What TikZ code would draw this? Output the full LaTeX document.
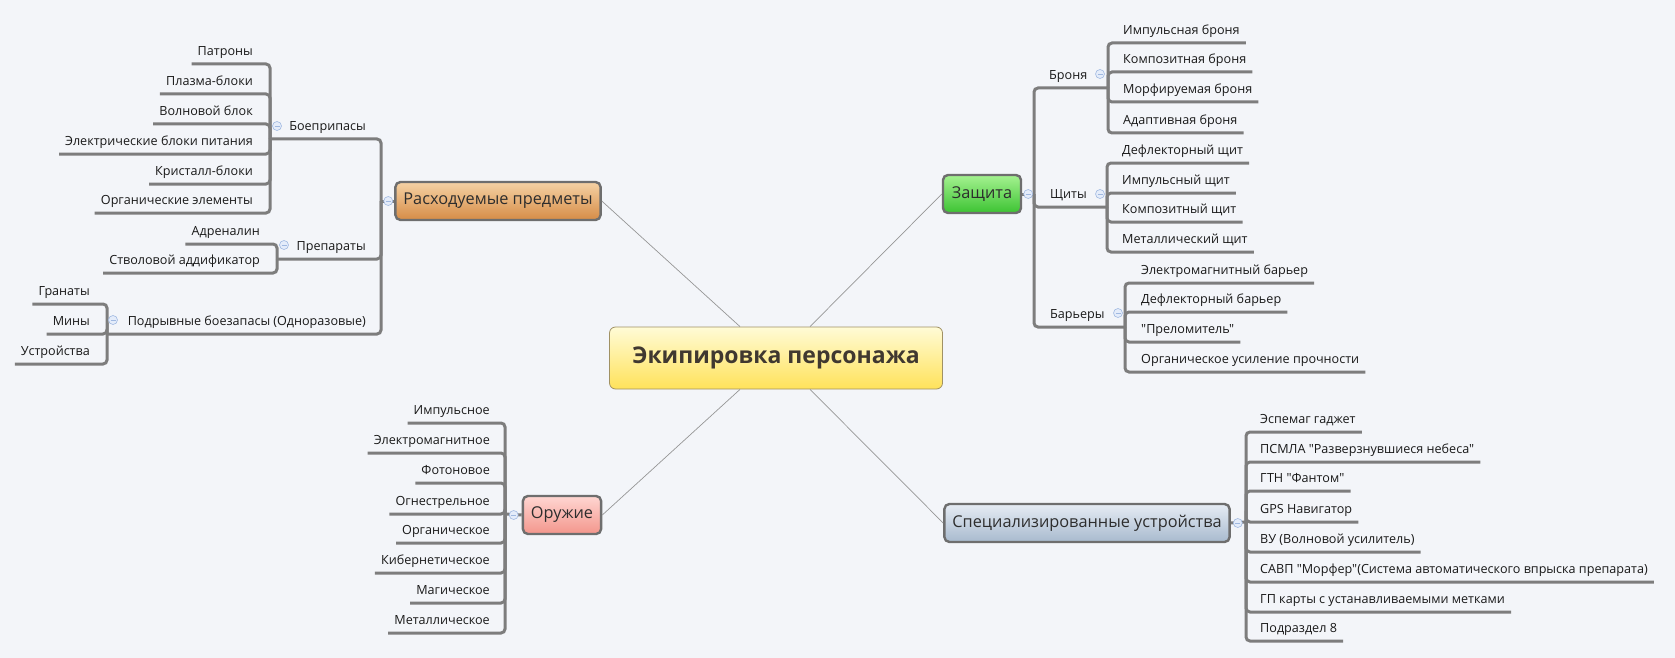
\documentclass[tikz,border=0pt]{standalone}
\usepackage{fontspec}
\setmainfont{Open Sans}[Ligatures=TeXOff]

\definecolor{bg}{RGB}{243,245,249}
\definecolor{treeline}{RGB}{125,125,125}
\definecolor{spokeline}{RGB}{150,150,150}
\definecolor{leaftext}{RGB}{25,25,25}
\definecolor{coretop}{RGB}{255,251,214}
\definecolor{corebot}{RGB}{255,226,90}
\definecolor{coreedge}{RGB}{160,145,100}
\definecolor{coretext}{RGB}{64,56,48}
\definecolor{topicedge}{RGB}{110,110,110}
\definecolor{topictext}{RGB}{45,45,45}
\definecolor{foldedge}{RGB}{160,185,225}
\definecolor{foldfill}{RGB}{228,236,250}

\begin{document}
\begin{tikzpicture}[
    x=1pt, y=-1pt,
    font=\fontsize{12.6}{15}\selectfont,
    core/.style={draw=coreedge, line width=0.8pt, rounded corners=6pt,
      top color=coretop, bottom color=corebot, minimum width=333pt,
      minimum height=62pt, text=coretext,
      font=\fontsize{23}{27}\selectfont\bfseries},
    topic/.style={draw=topicedge, line width=2.4pt, rounded corners=5pt,
      minimum height=38pt, inner xsep=8pt, text=topictext,
      font=\fontsize{16.3}{20}\selectfont},
    leaf/.style={inner xsep=6pt, inner ysep=5pt, text height=9pt,
      text depth=3pt, text=leaftext},
    fold/.style={circle, draw=foldedge, fill=foldfill, line width=0.6pt,
      minimum size=9pt, inner sep=0pt,
      path picture={\draw[foldedge, line width=0.8pt]
        ([xshift=2pt]path picture bounding box.west) --
        ([xshift=-2pt]path picture bounding box.east);}},
    tree/.style={draw=treeline, line width=3pt, rounded corners=4pt},
    spoke/.style={draw=spokeline, line width=0.7pt}
  ]
    \fill[bg] (0,0) rectangle (1675,658);
    \useasboundingbox (0,0) rectangle (1675,658);

    % centre and main topics
    \node[core] (core) at (776,358) {Экипировка персонажа};
    \node[topic, top color={rgb,255:red,245;green,210;blue,165},
      bottom color={rgb,255:red,214;green,140;blue,70}] (rb) at (498,201)
      {Расходуемые предметы};
    \node[topic, top color={rgb,255:red,165;green,242;blue,145},
      bottom color={rgb,255:red,60;green,195;blue,50}, minimum width=78pt]
      (zs) at (982,194) {Защита};
    \node[topic, top color={rgb,255:red,255;green,214;blue,210},
      bottom color={rgb,255:red,243;green,150;blue,140}] (or) at (562,515)
      {Оружие};
    \node[topic, top color={rgb,255:red,230;green,236;blue,244},
      bottom color={rgb,255:red,168;green,186;blue,206}] (sp) at (1087,523)
      {Специализированные устройства};

    % junctions on the bars
    \coordinate (rb-j) at (381,201);
    \coordinate (boe-j) at (270,139);
    \coordinate (pre-j) at (277,259);
    \coordinate (pod-j) at (107,334);
    \coordinate (zs-j) at (1034,194);
    \coordinate (bro-j) at (1108,88);
    \coordinate (shc-j) at (1107,207);
    \coordinate (bar-j) at (1125,327);
    \coordinate (or-j) at (505,514);
    \coordinate (sp-j) at (1246,522);

    % Расходуемые предметы
    \node[leaf, anchor=south east] (boe) at (372,139) {Боеприпасы};
    \node[leaf, anchor=south east] (pre) at (372,259) {Препараты};
    \node[leaf, anchor=south east] (pod) at (372,334)
      {Подрывные боезапасы (Одноразовые)};

    \node[leaf, anchor=south east] (boe1) at (259,64) {Патроны};
    \node[leaf, anchor=south east] (boe2) at (259,94) {Плазма-блоки};
    \node[leaf, anchor=south east] (boe3) at (259,124) {Волновой блок};
    \node[leaf, anchor=south east] (boe4) at (259,154)
      {Электрические блоки питания};
    \node[leaf, anchor=south east] (boe5) at (259,184) {Кристалл-блоки};
    \node[leaf, anchor=south east] (boe6) at (259,213) {Органические элементы};

    \node[leaf, anchor=south east] (pre1) at (266,244) {Адреналин};
    \node[leaf, anchor=south east] (pre2) at (266,273) {Стволовой аддификатор};

    \node[leaf, anchor=south east] (pod1) at (96,304) {Гранаты};
    \node[leaf, anchor=south east] (pod2) at (96,334) {Мины};
    \node[leaf, anchor=south east] (pod3) at (96,364) {Устройства};

    % Защита
    \node[leaf, anchor=south west] (bro) at (1043,88) {Броня};
    \node[leaf, anchor=south west] (shc) at (1044,207) {Щиты};
    \node[leaf, anchor=south west] (bar) at (1044,327) {Барьеры};

    \node[leaf, anchor=south west] (bro1) at (1117,43) {Импульсная броня};
    \node[leaf, anchor=south west] (bro2) at (1117,72) {Композитная броня};
    \node[leaf, anchor=south west] (bro3) at (1117,102) {Морфируемая броня};
    \node[leaf, anchor=south west] (bro4) at (1117,133) {Адаптивная броня};

    \node[leaf, anchor=south west] (shc1) at (1116,163) {Дефлекторный щит};
    \node[leaf, anchor=south west] (shc2) at (1116,193) {Импульсный щит};
    \node[leaf, anchor=south west] (shc3) at (1116,222) {Композитный щит};
    \node[leaf, anchor=south west] (shc4) at (1116,252) {Металлический щит};

    \node[leaf, anchor=south west] (bar1) at (1135,283) {Электромагнитный барьер};
    \node[leaf, anchor=south west] (bar2) at (1135,312) {Дефлекторный барьер};
    \node[leaf, anchor=south west] (bar3) at (1135,342) {"Преломитель"};
    \node[leaf, anchor=south west] (bar4) at (1135,372)
      {Органическое усиление прочности};

    % Оружие
    \node[leaf, anchor=south east] (or1) at (496,423) {Импульсное};
    \node[leaf, anchor=south east] (or2) at (496,453) {Электромагнитное};
    \node[leaf, anchor=south east] (or3) at (496,483) {Фотоновое};
    \node[leaf, anchor=south east] (or4) at (496,514) {Огнестрельное};
    \node[leaf, anchor=south east] (or5) at (496,543) {Органическое};
    \node[leaf, anchor=south east] (or6) at (496,573) {Кибернетическое};
    \node[leaf, anchor=south east] (or7) at (496,603) {Магическое};
    \node[leaf, anchor=south east] (or8) at (496,633) {Металлическое};

    % Специализированные устройства
    \node[leaf, anchor=south west] (sp1) at (1254,432) {Эспемаг гаджет};
    \node[leaf, anchor=south west] (sp2) at (1254,462)
      {ПСМЛА "Разверзнувшиеся небеса"};
    \node[leaf, anchor=south west] (sp3) at (1254,491) {ГТН "Фантом"};
    \node[leaf, anchor=south west] (sp4) at (1254,522) {GPS Навигатор};
    \node[leaf, anchor=south west] (sp5) at (1254,552)
      {ВУ (Волновой усилитель)};
    \node[leaf, anchor=south west] (sp6) at (1254,582)
      {САВП "Морфер"(Система автоматического впрыска препарата)};
    \node[leaf, anchor=south west] (sp7) at (1254,612)
      {ГП карты с устанавливаемыми метками};
    \node[leaf, anchor=south west] (sp8) at (1254,641) {Подраздел 8};

    % spokes from the centre
    \draw[spoke] ([xshift=-36pt]core.north) -- (rb.east);
    \draw[spoke] ([xshift=34pt]core.north) -- (zs.west);
    \draw[spoke] ([xshift=-36pt]core.south) -- (or.east);
    \draw[spoke] ([xshift=34pt]core.south) -- (sp.west);

    % tree lines
    \draw[tree] (rb.west) -- (rb-j);
    \draw[tree] (rb-j) |- (boe.south east) -- (boe-j);
    \draw[tree] (rb-j) |- (pre.south east) -- (pre-j);
    \draw[tree] (rb-j) |- (pod.south east) -- (pod-j);
    \draw[tree] (boe-j) |- (boe1.south west);
    \draw[tree] (boe-j) |- (boe2.south west);
    \draw[tree] (boe-j) |- (boe3.south west);
    \draw[tree] (boe-j) |- (boe4.south west);
    \draw[tree] (boe-j) |- (boe5.south west);
    \draw[tree] (boe-j) |- (boe6.south west);
    \draw[tree] (pre-j) |- (pre1.south west);
    \draw[tree] (pre-j) |- (pre2.south west);
    \draw[tree] (pod-j) |- (pod1.south west);
    \draw[tree] (pod-j) |- (pod2.south west);
    \draw[tree] (pod-j) |- (pod3.south west);

    \draw[tree] (zs.east) -- (zs-j);
    \draw[tree] (zs-j) |- (bro.south west) -- (bro-j);
    \draw[tree] (zs-j) |- (shc.south west) -- (shc-j);
    \draw[tree] (zs-j) |- (bar.south west) -- (bar-j);
    \draw[tree] (bro-j) |- (bro1.south east);
    \draw[tree] (bro-j) |- (bro2.south east);
    \draw[tree] (bro-j) |- (bro3.south east);
    \draw[tree] (bro-j) |- (bro4.south east);
    \draw[tree] (shc-j) |- (shc1.south east);
    \draw[tree] (shc-j) |- (shc2.south east);
    \draw[tree] (shc-j) |- (shc3.south east);
    \draw[tree] (shc-j) |- (shc4.south east);
    \draw[tree] (bar-j) |- (bar1.south east);
    \draw[tree] (bar-j) |- (bar2.south east);
    \draw[tree] (bar-j) |- (bar3.south east);
    \draw[tree] (bar-j) |- (bar4.south east);

    \draw[tree] (or.west) -- (or-j);
    \draw[tree] (or-j) |- (or1.south west);
    \draw[tree] (or-j) |- (or2.south west);
    \draw[tree] (or-j) |- (or3.south west);
    \draw[tree] (or-j) |- (or4.south west);
    \draw[tree] (or-j) |- (or5.south west);
    \draw[tree] (or-j) |- (or6.south west);
    \draw[tree] (or-j) |- (or7.south west);
    \draw[tree] (or-j) |- (or8.south west);

    \draw[tree] (sp.east) -- (sp-j);
    \draw[tree] (sp-j) |- (sp1.south east);
    \draw[tree] (sp-j) |- (sp2.south east);
    \draw[tree] (sp-j) |- (sp3.south east);
    \draw[tree] (sp-j) |- (sp4.south east);
    \draw[tree] (sp-j) |- (sp5.south east);
    \draw[tree] (sp-j) |- (sp6.south east);
    \draw[tree] (sp-j) |- (sp7.south east);
    \draw[tree] (sp-j) |- (sp8.south east);

    % fold markers
    \node[fold] (rb-f) at ([xshift=-6pt]rb.west) {};
    \node[fold] (zs-f) at ([xshift=6pt]zs.east) {};
    \node[fold] (or-f) at ([xshift=-8pt]or.west) {};
    \node[fold] (sp-f) at ([xshift=7pt]sp.east) {};
    \node[fold] (boe-f) at ([xshift=7pt,yshift=13pt]boe-j) {};
    \node[fold] (pre-f) at ([xshift=7pt,yshift=14pt]pre-j) {};
    \node[fold] (pod-f) at ([xshift=6pt,yshift=14pt]pod-j) {};
    \node[fold] (bro-f) at ([xshift=-8pt,yshift=14pt]bro-j) {};
    \node[fold] (shc-f) at ([xshift=-7pt,yshift=13pt]shc-j) {};
    \node[fold] (bar-f) at ([xshift=-7pt,yshift=14pt]bar-j) {};
  \end{tikzpicture}
\end{document}
